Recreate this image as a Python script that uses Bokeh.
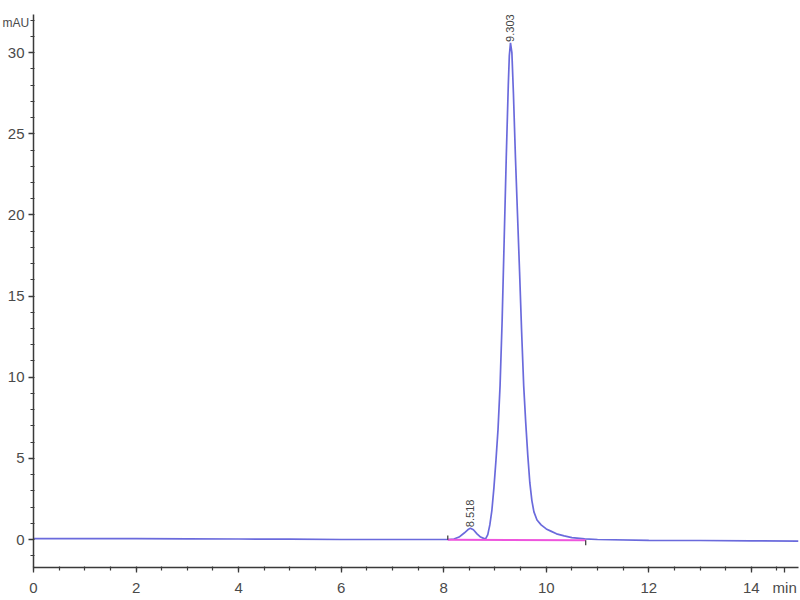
from math import pi
from bokeh.plotting import figure
from bokeh.models import Range1d, FixedTicker, LabelSet, Label, ColumnDataSource
from bokeh.core.properties import value
from bokeh.embed import file_html
from bokeh.resources import INLINE

# Chromatogram trace (retention time in min, absorbance in mAU)
time_min = [0.0, 1.0, 2.0, 3.0, 4.0, 5.0, 6.0, 7.0, 8.0, 8.10, 8.20, 8.30, 8.40, 8.47, 8.52,
            8.58, 8.65, 8.72, 8.78, 8.82, 8.86, 8.90, 8.94, 8.98, 9.02, 9.06, 9.10, 9.14,
            9.18, 9.22, 9.26, 9.28, 9.303, 9.33, 9.36, 9.40, 9.44, 9.48, 9.52, 9.56, 9.60,
            9.64, 9.68, 9.72, 9.76, 9.82, 9.90, 10.00, 10.10, 10.20, 10.35, 10.50, 10.75,
            11.0, 12.0, 13.0, 14.0, 14.92]
absorb_mau = [0.05, 0.05, 0.05, 0.04, 0.03, 0.02, 0.0, 0.0, 0.0, 0.0, 0.03, 0.15, 0.4, 0.6, 0.7,
              0.6, 0.35, 0.15, 0.07, 0.05, 0.3, 0.9, 1.8, 3.2, 4.9, 6.8, 9.5, 13.5,
              18.5, 23.5, 28.0, 29.8, 30.6, 30.0, 27.5, 23.5, 20.0, 16.5, 12.8, 9.5, 7.2,
              5.2, 3.5, 2.4, 1.7, 1.2, 0.9, 0.65, 0.5, 0.35, 0.22, 0.12, 0.04,
              0.0, -0.05, -0.06, -0.08, -0.1]

# Integration baseline
baseline_x = [8.08, 10.77]
baseline_y = [-0.02, -0.05]
baseline_mark_y = [0.25, -0.35]

# Peak annotations
peak_rt = [8.518, 9.303]
peak_top = [0.7, 30.6]
peak_text = ["8.518", "9.303"]

# Axis ticks and unit labels
x_major = [0, 2, 4, 6, 8, 10, 12, 14, 14.65]
x_labels = ["0", "2", "4", "6", "8", "10", "12", "14", "min"]
x_minor = [0.5 * i for i in range(0, 30)]
y_major = [0, 5, 10, 15, 20, 25, 30]
y_minor = [i for i in range(-1, 33)]
y_unit = "mAU"

FONT = "Liberation Sans"
AXC = "#3a3a3a"

p = figure(width=800, height=600, x_range=Range1d(0, 14.92), y_range=Range1d(-1.725, 32.35),
           output_backend="svg", toolbar_location=None,
           min_border_left=33, min_border_right=2, min_border_top=14, min_border_bottom=33)
p.outline_line_color = None
p.xgrid.visible = False
p.ygrid.visible = False
p.background_fill_color = "white"

for ax in (p.xaxis[0], p.yaxis[0]):
    ax.axis_line_color = AXC
    ax.axis_line_width = 1.5
    ax.major_tick_line_color = AXC
    ax.major_tick_line_width = 1.3
    ax.minor_tick_line_color = AXC
    ax.minor_tick_line_width = 1.2
    ax.major_tick_out = 5
    ax.major_tick_in = 0
    ax.minor_tick_out = 3
    ax.minor_tick_in = 1
    ax.major_label_text_font = FONT
    ax.major_label_text_font_size = "15px"
    ax.major_label_text_color = "#4a4a4a"

p.xaxis[0].ticker = FixedTicker(ticks=x_major, minor_ticks=x_minor)
p.yaxis[0].ticker = FixedTicker(ticks=y_major, minor_ticks=y_minor)
p.xaxis[0].major_label_overrides = {t: s for t, s in zip(x_major, x_labels)}
p.xaxis[0].major_label_standoff = 6
p.yaxis[0].major_label_standoff = 4

# trace
p.line(time_min, absorb_mau, line_color="#5a5ad8", line_width=1.7, line_alpha=0.9)
# integration baseline
p.line(baseline_x, baseline_y, line_color="#ee55dd", line_width=2)
p.segment(x0=baseline_x, y0=baseline_y, x1=baseline_x, y1=baseline_mark_y,
          line_color="#333333", line_width=1.2)

# peak labels
src = ColumnDataSource(dict(x=peak_rt, y=peak_top, t=peak_text))
p.add_layout(LabelSet(x="x", y="y", text="t", source=src, angle=pi / 2, text_align="left",
                      text_baseline="middle", y_offset=1, text_font=value(FONT),
                      text_font_size=value("11px"), text_color=value("#444444")))

# y unit label at the top left, in the top side panel (not clipped to the frame)
p.add_layout(Label(x=2, y=31.8, x_units="canvas", text=y_unit, text_align="left",
                   text_baseline="middle", text_font=FONT, text_font_size="12px",
                   text_color="#4a4a4a"), "above")

open("out.html", "w").write(file_html(p, INLINE))
